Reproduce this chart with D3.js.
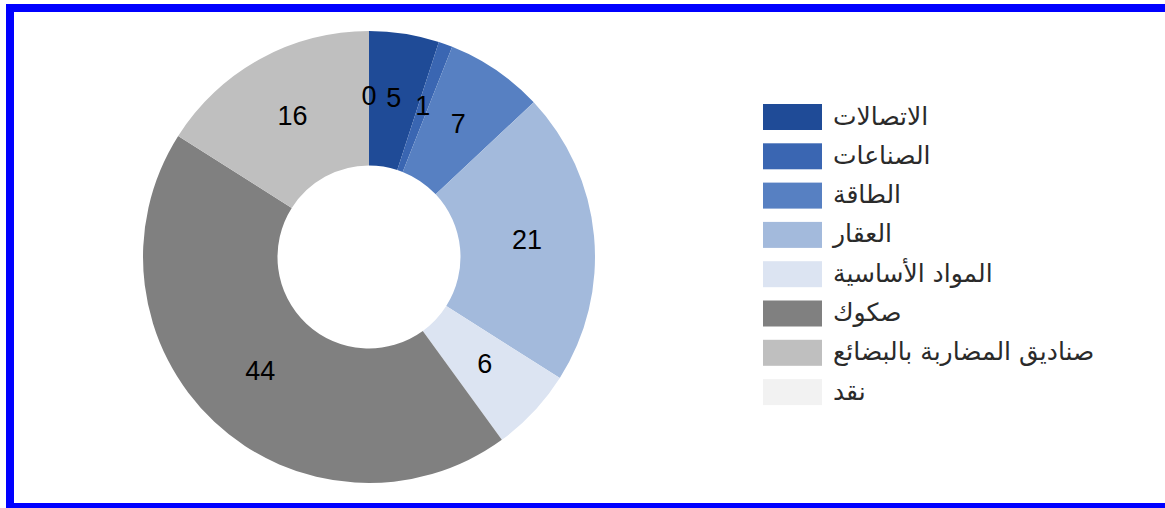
<!DOCTYPE html>
<html>
<head>
<meta charset="utf-8">
<script src="https://cdn.jsdelivr.net/npm/d3@7/dist/d3.min.js"></script>
<style>
html,body{margin:0;padding:0;background:#fff;}
svg{display:block;}
</style>
</head>
<body>
<svg id="chart" width="1165" height="508"></svg>
<script>
const categories = ["الاتصالات","الصناعات","الطاقة","العقار","المواد الأساسية","صكوك","صناديق المضاربة بالبضائع","نقد"];
const values = [5, 1, 7, 21, 6, 44, 16, 0];
const colors = ["#1F4B97","#3A66B2","#5780C2","#A3BADC","#DCE4F2","#808080","#BFBFBF","#F2F2F2"];

const svg = d3.select("#chart");
// border
svg.append("rect").attr("x",6).attr("y",4).attr("width",8).attr("height",504).attr("fill","#0000FF");
svg.append("rect").attr("x",6).attr("y",4).attr("width",1159).attr("height",8).attr("fill","#0000FF");
svg.append("rect").attr("x",6).attr("y",503).attr("width",1159).attr("height",5).attr("fill","#0000FF");

const cx = 369, cy = 257, rOuter = 226, rInner = 91.5;
const data = categories.map((c,i)=>({cat:c, value:values[i], color:colors[i]}));
const pie = d3.pie().value(d=>d.value).sort(null);
const arc = d3.arc().innerRadius(rInner).outerRadius(rOuter);
const arcs = pie(data);

const g = svg.append("g").attr("transform",`translate(${cx},${cy})`);
g.selectAll("path").data(arcs).enter().append("path")
  .attr("d", arc).attr("fill", d=>d.data.color);

g.selectAll("text.lbl").data(arcs).enter().append("text")
  .attr("class","lbl")
  .attr("transform", d=>{const c=arc.centroid(d); return `translate(${c[0]},${c[1]-2})`;})
  .attr("text-anchor","middle").attr("dominant-baseline","central")
  .attr("font-family","'Liberation Sans', Arial, sans-serif").attr("font-size",27)
  .attr("fill","#000")
  .text(d=>d.data.value);

const leg = svg.append("g");
const ly0 = 104, lstep = 39.3;
data.forEach((d,i)=>{
  const y = ly0 + i*lstep;
  leg.append("rect").attr("x",763).attr("y",y).attr("width",59).attr("height",26).attr("fill",d.color);
  leg.append("text").attr("x",833).attr("y",y+12)
    .attr("dominant-baseline","central")
    .attr("font-family","'DejaVu Sans', sans-serif").attr("font-size",25)
    .attr("fill","#2a2a2a").text(d.cat);
});
</script>
</body>
</html>
